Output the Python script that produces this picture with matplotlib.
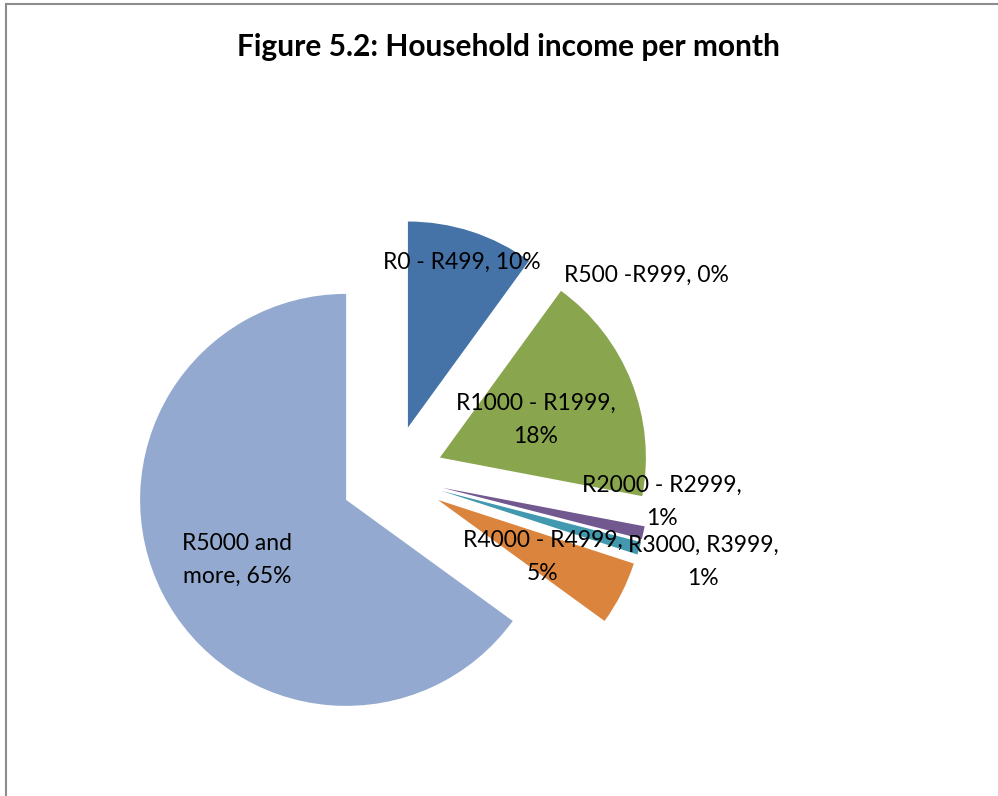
import matplotlib.pyplot as plt
from matplotlib.lines import Line2D

# Household income groups and their share (%)
categories = ['R0 - R499', 'R500 -R999', 'R1000 - R1999', 'R2000 - R2999',
              'R3000, R3999', 'R4000 - R4999', 'R5000 and more']
shares = [10, 0, 18, 1, 1, 5, 65]
label_texts = ['R0 - R499, 10%', 'R500 -R999, 0%', 'R1000 - R1999,\n18%',
               'R2000 - R2999,\n1%', 'R3000, R3999,\n1%', 'R4000 - R4999,\n5%',
               'R5000 and\nmore, 65%']
colors = ['#4572A7', '#AA4643', '#89A54E', '#71588F', '#4198AF', '#DB843D', '#93A9CF']

# label centres in pixel coordinates (from top-left of the picture)
label_xy = [(462, 262), (646, 275), (536, 420), (662, 502), (703, 562),
            (543, 557), (237, 560)]

W, H = 998, 796
radius = 206
fig = plt.figure(figsize=(W / 100, H / 100), dpi=100)
ax = fig.add_axes([0, 0, 1, 1])

# explode offset is in data units here, so scale by the radius (25% explosion)
ax.pie(shares, colors=colors, explode=[0.25 * radius] * len(shares), startangle=90,
       counterclock=False, center=(392, H - 476.5), radius=radius,
       wedgeprops=dict(linewidth=0))

# pie() resets the limits, so set pixel-like limits afterwards
ax.set_xlim(0, W)
ax.set_ylim(0, H)
ax.set_aspect('equal')
ax.axis('off')

for txt, (x, y) in zip(label_texts, label_xy):
    ax.text(x, H - y, txt, ha='center', va='center', fontsize=16.5,
            family='Lato', linespacing=1.69, color='black')

fig.text(508 / W, 1 - 47 / H, 'Figure 5.2: Household income per month',
         ha='center', va='center', fontsize=21.5, fontweight='bold', family='Lato')

# chart frame (top and left edges visible)
fig.add_artist(Line2D([6 / W, 1], [1 - 4 / H, 1 - 4 / H], color='#8c8c8c', lw=1.5,
                      transform=fig.transFigure))
fig.add_artist(Line2D([6 / W, 6 / W], [0, 1 - 4 / H], color='#8c8c8c', lw=1.5,
                      transform=fig.transFigure))

fig.savefig('out.png', dpi=100)
